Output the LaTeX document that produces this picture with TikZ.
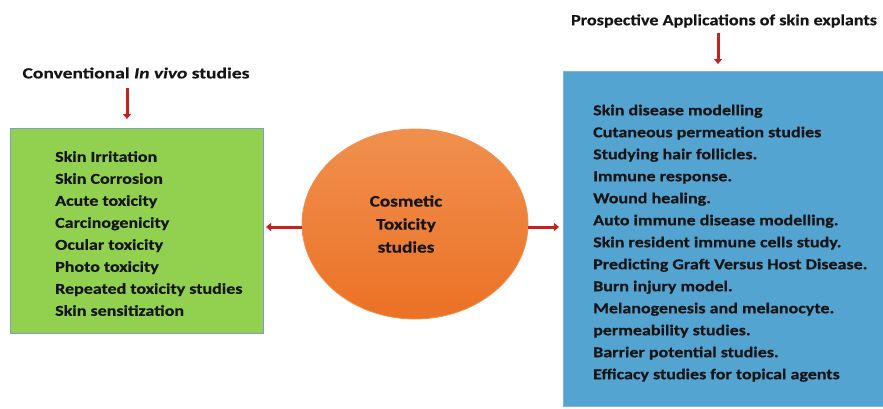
\documentclass[tikz,border=0pt]{standalone}
\usepackage{fontspec}
\setmainfont{Carlito}
\newfontfamily\listfont{Carlito}[FakeStretch=1.2,FakeBold=0.6]
\newfontfamily\ltfont{Carlito}[FakeStretch=1.26,FakeBold=0.4]
\newfontfamily\rtfont{Carlito}[FakeStretch=1.17,FakeBold=0.4]
\usetikzlibrary{arrows.meta,shapes.geometric}
\definecolor{boxgreen}{HTML}{92D050}
\definecolor{greenedge}{HTML}{7E9FC0}
\definecolor{boxblue}{HTML}{54A4D2}
\definecolor{blueedge}{HTML}{7DB6DC}
\definecolor{arrred}{HTML}{C3221F}
\definecolor{orlight}{HTML}{F0904E}
\definecolor{ordark}{HTML}{EB7125}
\definecolor{txt}{HTML}{151515}
\begin{document}
\begin{tikzpicture}[x=1pt,y=-1pt,
  listtext/.style={font=\listfont\bfseries\fontsize{15}{22}\selectfont, text=txt, align=left, anchor=north west, inner sep=0pt},
  redarrow/.style={draw=arrred, line width=3pt, -{Triangle[length=5pt,width=8pt]}}]
\useasboundingbox (0,0) rectangle (883,408);
% left box
\node[draw=greenedge, fill=boxgreen, line width=0.8pt, minimum width=253pt, minimum height=205pt, anchor=north west, inner sep=0pt] (lbox) at (10,128) {};
\node[listtext] (ltext) at (55,151) {Skin Irritation\\Skin Corrosion\\Acute toxicity\\Carcinogenicity\\Ocular toxicity\\Photo toxicity\\Repeated toxicity studies\\Skin sensitization};
% right box
\node[draw=blueedge, fill=boxblue, line width=0.8pt, minimum width=330pt, minimum height=335pt, anchor=north west, inner sep=0pt] (rbox) at (563,71) {};
\node[listtext] (rtext) at (593,104.5) {Skin disease modelling\\Cutaneous permeation studies\\Studying hair follicles.\\Immune response.\\Wound healing.\\Auto immune disease modelling.\\Skin resident immune cells study.\\Predicting Graft Versus Host Disease.\\Burn injury model.\\Melanogenesis and melanocyte.\\permeability studies.\\Barrier potential studies.\\Efficacy studies for topical agents};
% ellipse
\node[ellipse, draw=orlight, line width=0.8pt, top color=orlight, bottom color=ordark, minimum width=226pt, minimum height=190pt, inner sep=0pt] (ell) at (415,224) {};
\node[font=\listfont\bfseries\fontsize{16}{23}\selectfont, text=txt, align=center] (etext) at (406,224) {Cosmetic\\Toxicity\\studies};
% titles
\node[font=\ltfont\bfseries\fontsize{15.5}{18}\selectfont, text=txt, inner sep=0pt] (ltitle) at (136,73) {Conventional \textit{In vivo} studies};
\node[font=\rtfont\bfseries\fontsize{15.5}{18}\selectfont, text=txt, inner sep=0pt] (rtitle) at (724,21) {Prospective Applications of skin explants};
\coordinate (la) at (127,88);
\coordinate (ra) at (718,33);
\draw[redarrow] (la) -- (127,119);
\draw[redarrow] (ra) -- (718,64);
% side arrows
\draw[redarrow] (ell.west) ++(0,3) coordinate (ew) -- (266,227);
\draw[redarrow] (ell.east) ++(0,3) coordinate (ee) -- (559,227);
\end{tikzpicture}
\end{document}
